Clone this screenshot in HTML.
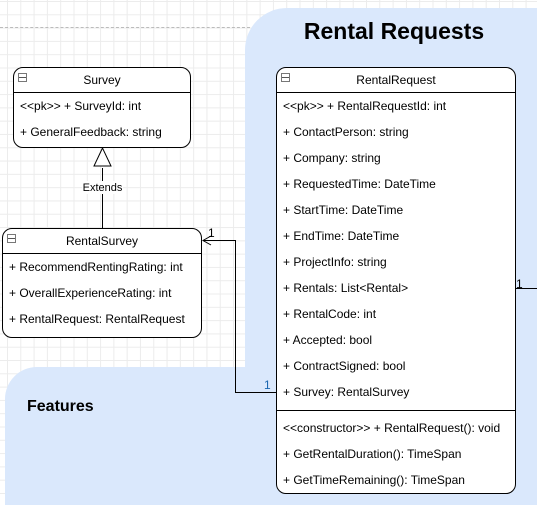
<!DOCTYPE html>
<html style="overflow:hidden;height:505px"><head><style>
body{margin:0;width:537px;height:505px;overflow:hidden;position:relative;font-family:"Liberation Sans",sans-serif;
background-color:#fff;
background-image:linear-gradient(#ececec 1px,transparent 1px),linear-gradient(90deg,#ececec 1px,transparent 1px);
background-size:13.3px 13.3px;background-position:7px 1px;}
.a{position:absolute}
.box{position:absolute;background:#fff;border:1px solid #000;border-radius:10px;box-sizing:border-box;font-size:12px;color:#000}
.hd{height:24px;border-bottom:1px solid #000;text-align:center;line-height:25px;position:relative}
.hd:before{content:"";position:absolute;left:4px;top:5px;width:7px;height:7px;border:1px solid #777;background:linear-gradient(#fff 3px,#555 3px,#555 4px,#fff 4px)}
.r{height:26px;line-height:26px;padding-left:6px;white-space:nowrap}
</style></head><body>
<div class="a" style="left:0;top:27px;width:250px;border-top:1px dashed #bbb"></div>
<div class="a" style="left:245px;top:8px;width:340px;height:497px;background:#dae8fc;border-radius:42px 42px 0 0"></div>
<div class="a" style="left:5px;top:367px;width:532px;height:138px;background:#dae8fc;border-radius:32px 0 0 0"></div>
<div class="a" style="left:245px;top:18px;width:298px;text-align:center;font-weight:bold;font-size:23px">Rental Requests</div>
<div class="a" style="left:27px;top:398px;font-weight:bold;font-size:16px">Features</div>

<div class="box" style="left:13px;top:67px;width:178px;height:81px">
<div class="hd">Survey</div>
<div class="r">&lt;&lt;pk&gt;&gt; + SurveyId: int</div>
<div class="r">+ GeneralFeedback: string</div>
</div>

<div class="box" style="left:2px;top:228px;width:200px;height:110px">
<div class="hd">RentalSurvey</div>
<div class="r">+ RecommendRentingRating: int</div>
<div class="r">+ OverallExperienceRating: int</div>
<div class="r">+ RentalRequest: RentalRequest</div>
</div>

<div class="box" style="left:276px;top:67px;width:240px;height:427px">
<div class="hd">RentalRequest</div>
<div>
<div class="r">&lt;&lt;pk&gt;&gt; + RentalRequestId: int</div>
<div class="r">+ ContactPerson: string</div>
<div class="r">+ Company: string</div>
<div class="r">+ RequestedTime: DateTime</div>
<div class="r">+ StartTime: DateTime</div>
<div class="r">+ EndTime: DateTime</div>
<div class="r">+ ProjectInfo: string</div>
<div class="r">+ Rentals: List&lt;Rental&gt;</div>
<div class="r">+ RentalCode: int</div>
<div class="r">+ Accepted: bool</div>
<div class="r">+ ContractSigned: bool</div>
<div class="r">+ Survey: RentalSurvey</div>
</div>
<div style="border-top:1px solid #000;margin-top:5px;padding-top:4px">
<div class="r">&lt;&lt;constructor&gt;&gt; + RentalRequest(): void</div>
<div class="r">+ GetRentalDuration(): TimeSpan</div>
<div class="r">+ GetTimeRemaining(): TimeSpan</div>
</div>
</div>

<svg class="a" style="left:0;top:0" width="537" height="505">
<g stroke="#000" fill="none" stroke-width="1">
<line x1="102.5" y1="228" x2="102.5" y2="168"/>
<polygon points="102.5,148 94,166 111,166" fill="#fff"/>
<polyline points="276,392.5 235.5,392.5 235.5,240.5 203,240.5"/>
<polyline points="211,236 203,240.5 211,245"/>
<line x1="516" y1="288.5" x2="537" y2="288.5"/>
</g>
<rect x="82" y="181" width="41" height="13" fill="#fff"/>
<text x="102.5" y="191" font-size="11" text-anchor="middle" font-family="Liberation Sans">Extends</text>
<text x="208" y="237" font-size="12" font-family="Liberation Sans">1</text>
<text x="264" y="389" font-size="12" fill="#1a66b0" font-family="Liberation Sans">1</text>
<text x="516" y="288" font-size="12" font-family="Liberation Sans">1</text>
</svg>
</body></html>
